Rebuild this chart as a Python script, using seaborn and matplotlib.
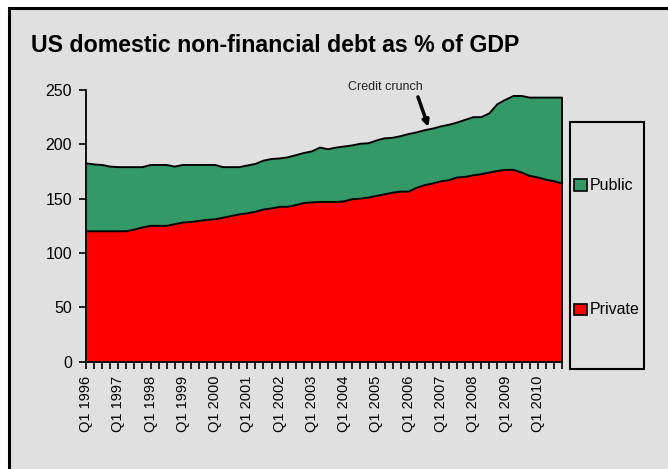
import numpy as np
import matplotlib
matplotlib.use("Agg")
import matplotlib.pyplot as plt
import seaborn as sns
from matplotlib.patches import Rectangle

# ---- data ----
years = list(range(1996, 2011))
quarters = [f"Q{q} {y}" for y in years for q in range(1, 5)]
private = [120, 120, 120, 120, 120, 120, 121.5, 123.5, 125, 125,
           125, 126.5, 128, 128.5, 129.5, 130.5, 131, 132.5, 134, 135.5,
           136.5, 138, 140, 141, 142.5, 142.5, 144, 146, 146.5, 147,
           147, 147, 147.5, 149.5, 150, 151, 152.5, 154, 155.5, 156.5,
           156.5, 160, 162.5, 164, 166, 167, 169.5, 170, 171.5, 172.5,
           174, 175.5, 176.5, 176.5, 174, 171, 169.5, 167.5, 166, 164]
public = [62.5, 61.5, 61, 59.5, 59, 59, 57.5, 55.5, 56, 56,
          56, 53, 53, 52.5, 51.5, 50.5, 50, 46.5, 45, 43.5,
          44, 44, 45, 45.5, 44.5, 45.5, 46, 46, 47, 50,
          48.5, 50, 50.5, 49.5, 50.5, 50, 51, 51.5, 50.5, 51,
          53, 51, 50.5, 50.5, 50.5, 51, 50.5, 52.5, 53.5, 52.5,
          54.5, 61.5, 64.5, 68, 70.5, 72, 73.5, 75.5, 77, 79]
series_names = ["Public", "Private"]
title = "US domestic non-financial debt as % of GDP"
annotation = "Credit crunch"
yticks = [0, 50, 100, 150, 200, 250]

colors = {"Public": "#339966", "Private": "#FF0000"}
bg = "#e0e0e0"

sns.set_style("white")
plt.rcParams["font.family"] = ["Liberation Sans", "DejaVu Sans"]

W, H = 668, 469
fig = plt.figure(figsize=(W / 100, H / 100), dpi=100, facecolor="white")

# outer panel
fig.add_artist(Rectangle((8.5 / W, -0.05), 1.1, 1 - 8 / H + 0.05,
                         transform=fig.transFigure, facecolor=bg,
                         edgecolor="black", lw=2.2, zorder=-10))

ax = fig.add_axes([86 / W, 1 - 361.7 / H, 476 / W, 271.7 / H])
ax.set_facecolor("none")

x = np.arange(len(quarters))
priv = np.array(private)
total = priv + np.array(public)

ax.fill_between(x, 0, priv, color=colors["Private"], lw=0)
ax.fill_between(x, priv, total, color=colors["Public"], lw=0)
sns.lineplot(x=x, y=total, color="black", lw=1.4, ax=ax, clip_on=False)
sns.lineplot(x=x, y=priv, color="black", lw=1.4, ax=ax, clip_on=False)
ax.vlines(x[-1], 0, total[-1], color="black", lw=1.4, clip_on=False)

ax.set_xlim(0, len(quarters) - 1)
ax.set_ylim(0, 250)

for s in ["top", "right"]:
    ax.spines[s].set_visible(False)
for s in ["left", "bottom"]:
    ax.spines[s].set_color("black")
    ax.spines[s].set_linewidth(1.3)

ax.set_yticks(yticks)
ax.set_yticklabels([str(v) for v in yticks])
ax.tick_params(axis="y", direction="out", length=5, width=1.2, pad=5,
               labelsize=11.5, colors="black", left=True)
ax.set_xticks(x)
ax.set_xticklabels([q if q.startswith("Q1") else "" for q in quarters],
                   rotation=90)
ax.tick_params(axis="x", direction="out", length=5, width=1.2, pad=5,
               labelsize=10.5, colors="black", bottom=True)
ax.set_xlabel("")
ax.set_ylabel("")

# title
fig.text(31 / W, 1 - 45 / H, title, fontsize=16.7, weight="bold",
         ha="left", va="center", color="black")

# annotation
ax.text(37.05, 252.7, annotation, fontsize=9, ha="center", va="center",
        clip_on=False)
ax.annotate("", xy=(42.45, 216), xytext=(41.15, 243.6),
            arrowprops=dict(arrowstyle="-|>", color="black", lw=2.5,
                            mutation_scale=9, shrinkA=0, shrinkB=0),
            annotation_clip=False)

# legend box
fig.add_artist(Rectangle((570 / W, 1 - 368.7 / H), 74 / W, 247 / H,
                         transform=fig.transFigure, facecolor=bg,
                         edgecolor="black", lw=1.5))
for name, yc in zip(series_names, [185, 309]):
    fig.add_artist(Rectangle((574 / W, 1 - (yc + 5.5) / H), 12.5 / W, 11 / H,
                             transform=fig.transFigure,
                             facecolor=colors[name], edgecolor="black", lw=1.2))
    fig.text(590 / W, 1 - yc / H, name, fontsize=11.5, ha="left",
             va="center", color="black")

fig.savefig("out.png", dpi=100, facecolor="white")
